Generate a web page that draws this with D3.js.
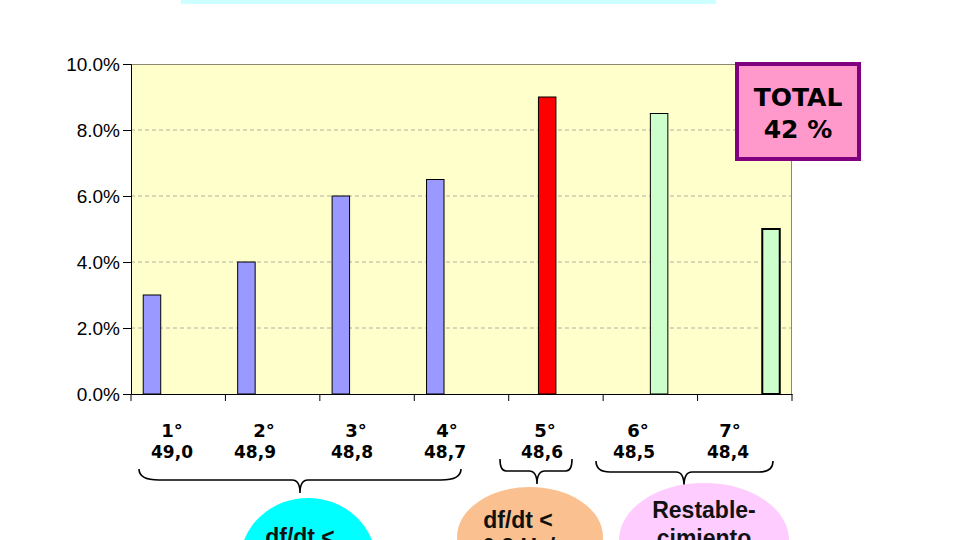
<!DOCTYPE html>
<html><head><meta charset="utf-8">
<script src="https://cdn.jsdelivr.net/npm/d3@7"></script>
<style>body{margin:0;background:#fff}svg{display:block}</style>
</head><body>
<script>
const categories = ["1°","2°","3°","4°","5°","6°","7°"];
const freqLabels = ["49,0","48,9","48,8","48,7","48,6","48,5","48,4"];
const values = [3.0, 4.0, 6.0, 6.5, 9.0, 8.5, 5.0];
const seriesNames = ["s1","s2","s3","s4"];
const seriesOf = ["s1","s1","s1","s1","s2","s3","s4"];
const seriesColors = ["#9999FF","#FF0000","#CCFFCC","#CCFFCC"];
const yTicks = [0,2,4,6,8,10];

const W=960,H=540;
const svg=d3.select("body").append("svg").attr("width",W).attr("height",H);
const m={l:131,t:64,r:792,b:394};

svg.append("rect").attr("x",181).attr("y",0).attr("width",535).attr("height",4).attr("fill","#CCFFFF");

const x=d3.scaleBand().domain(categories).range([m.l,m.r]).paddingInner(0).paddingOuter(0);
const xs=d3.scaleBand().domain(seriesNames).range([0,x.bandwidth()]).paddingInner(0).paddingOuter(0.7);
const y=d3.scaleLinear().domain([0,10]).range([m.b,m.t]);
const color=d3.scaleOrdinal().domain(seriesNames).range(seriesColors);

svg.append("rect").attr("x",m.l).attr("y",m.t).attr("width",m.r-m.l).attr("height",m.b-m.t).attr("fill","#FFFFCC");
svg.append("g").selectAll("line").data(yTicks.filter(d=>d>0&&d<10)).join("line")
 .attr("x1",m.l).attr("x2",m.r).attr("y1",d=>y(d)).attr("y2",d=>y(d))
 .attr("stroke","#b0b0a0").attr("stroke-dasharray","4,3").attr("stroke-width",1);
svg.append("line").attr("x1",m.l).attr("x2",m.r).attr("y1",m.t+0.5).attr("y2",m.t+0.5).attr("stroke","#8a8a70");
svg.append("line").attr("x1",m.r-0.5).attr("x2",m.r-0.5).attr("y1",m.t).attr("y2",m.b).attr("stroke","#8a8a70");

svg.append("g").selectAll("rect").data(values).join("rect")
 .attr("x",(d,i)=>x(categories[i])+xs(seriesOf[i]))
 .attr("y",d=>y(d)).attr("width",xs.bandwidth()).attr("height",d=>m.b-y(d))
 .attr("fill",(d,i)=>color(seriesOf[i])).attr("stroke","#000")
 .attr("stroke-width",(d,i)=>i===6?2:1);

const ya=svg.append("g").attr("transform",`translate(${m.l},0)`)
 .call(d3.axisLeft(y).tickValues(yTicks).tickSize(8).tickPadding(3).tickFormat(d=>d.toFixed(1)+"%"));
ya.selectAll("text").attr("font-family","Liberation Sans, Arial, sans-serif").attr("font-size",19).attr("fill","#000");
ya.select(".domain").attr("stroke","#000");
const xa=svg.append("g").attr("transform",`translate(0,${m.b})`)
 .call(d3.axisBottom(x).tickValues([]).tickSizeOuter(0));
xa.select(".domain").attr("stroke","#000");
svg.append("g").selectAll("line").data(categories.concat(["end"])).join("line")
 .attr("x1",(d,i)=>i<7?x(d):m.r).attr("x2",(d,i)=>i<7?x(d):m.r)
 .attr("y1",m.b).attr("y2",m.b+7).attr("stroke","#000");

const lf="DejaVu Sans, sans-serif";
const ordX=[172,264,356,447,545,638,730];
const frX=[172,255,352,445,542,634,728];
svg.append("g").selectAll("text").data(categories).join("text")
 .attr("x",(d,i)=>ordX[i]).attr("y",437).attr("text-anchor","middle")
 .attr("font-family",lf).attr("font-weight","bold").attr("font-size",18).text(d=>d);
svg.append("g").selectAll("text").data(freqLabels).join("text")
 .attr("x",(d,i)=>frX[i]).attr("y",458).attr("text-anchor","middle")
 .attr("font-family",lf).attr("font-weight","bold").attr("font-size",17).text(d=>d);

function brace(x1,x2,xm,yt,yb,tip,r){
 return `M${x1},${yt} Q${x1},${yb} ${x1+r},${yb} L${xm-8},${yb} Q${xm},${yb} ${xm},${tip} Q${xm},${yb} ${xm+8},${yb} L${x2-r},${yb} Q${x2},${yb} ${x2},${yt}`;
}
const bg=svg.append("g").attr("fill","none").attr("stroke","#000").attr("stroke-width",1.6);
bg.append("path").attr("d",brace(139,461,300,469,480,493,20));
bg.append("path").attr("d",brace(500,572,537,459,471,484,6));
bg.append("path").attr("d",brace(596,773,684,461,472,486,14));

svg.append("ellipse").attr("cx",308).attr("cy",562).attr("rx",68).attr("ry",64).attr("fill","#00FFFF");
svg.append("ellipse").attr("cx",530).attr("cy",537).attr("rx",73).attr("ry",50).attr("fill","#FAC090");
svg.append("ellipse").attr("cx",704).attr("cy",540).attr("rx",85).attr("ry",57).attr("fill","#FFCCFF");
const ef="Liberation Sans, Arial, sans-serif";
function etxt(xc,yb,t){svg.append("text").attr("x",xc).attr("y",yb).attr("text-anchor","middle").attr("font-family",ef).attr("font-weight","bold").attr("font-size",23).attr("fill","#111").text(t);}
etxt(300,545,"df/dt <"); etxt(300,572,"0,1 Hz/s");
etxt(518,528,"df/dt <"); etxt(525,555,"0,2 Hz/s");
etxt(704,518,"Restable-"); etxt(704,546,"cimiento");

svg.append("rect").attr("x",737).attr("y",64).attr("width",122).attr("height",95).attr("fill","#FF99CC").attr("stroke","#800080").attr("stroke-width",4);
svg.append("text").attr("x",798).attr("y",106).attr("text-anchor","middle").attr("font-family",lf).attr("font-weight","bold").attr("font-size",25).text("TOTAL");
svg.append("text").attr("x",798).attr("y",138).attr("text-anchor","middle").attr("font-family",lf).attr("font-weight","bold").attr("font-size",25).text("42 %");
</script>
</body></html>
